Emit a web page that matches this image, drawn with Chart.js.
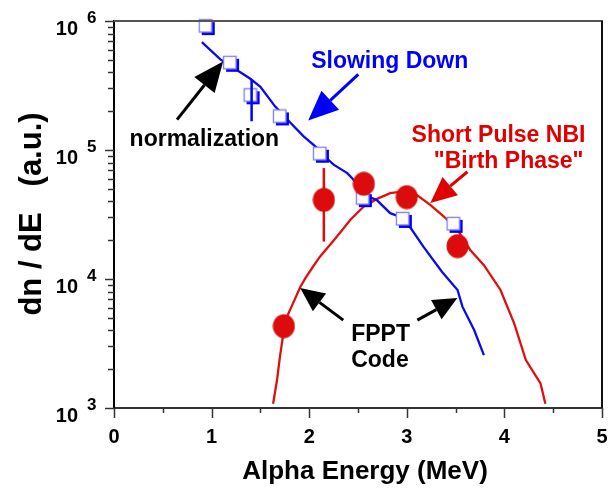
<!DOCTYPE html>
<html>
<head>
<meta charset="utf-8">
<script src="https://cdn.jsdelivr.net/npm/chart.js@4.4.0/dist/chart.umd.min.js"></script>
<style>
  html, body { margin: 0; padding: 0; background: #fff; }
  #wrap { width: 610px; height: 495px; }
</style>
</head>
<body>
<div id="wrap"><canvas id="chart" width="610" height="495"></canvas></div>
<script>
// measured "Slowing Down" points (open squares)
const sqE = [0.95, 1.20, 1.41, 1.71, 2.12, 2.56, 2.97, 3.49];
const sqN = [8.97e5, 4.66e5, 2.61e5, 1.79e5, 9.19e4, 4.16e4, 2.87e4, 2.63e4];

// measured "Short Pulse NBI" points (filled circles)
const dotE = [1.74, 2.15, 2.56, 3.00, 3.52];
const dotN = [4.31e3, 4.11e4, 5.47e4, 4.31e4, 1.80e4];

// error bars: energy, low, high
const sqErr = [1.41, 1.67e5, 3.52e5];
const dotErr = [2.15, 1.95e4, 7.24e4];

// FPPT code, slowing down (blue curve)
const slowE = [0.90, 1.09, 1.20, 1.33, 1.40, 1.50, 1.65, 1.81, 1.94, 2.08, 2.16, 2.25, 2.39, 2.44,
               2.56, 2.62, 2.69, 2.83, 2.90, 3.04, 3.17, 3.36, 3.52, 3.57, 3.69, 3.79];
const slowN = [6.86e5, 5.04e5, 4.45e5, 3.85e5, 3.55e5, 3.09e5, 2.18e5, 1.62e5, 1.28e5, 1.04e5, 8.9e4, 7.7e4, 6.62e4, 6.05e4,
               4.6e4, 4.3e4, 4.11e4, 3.24e4, 3.09e4, 2.48e4, 1.78e4, 1.14e4, 8.22e3, 6.1e3, 4.02e3, 2.57e3];

// FPPT code, birth phase (red curve)
const birthE = [1.63, 1.67, 1.70, 1.74, 1.78, 1.91, 1.96, 2.04, 2.11, 2.27, 2.42, 2.56, 2.69, 2.83,
                2.97, 3.10, 3.24, 3.38, 3.52, 3.65, 3.79, 3.96, 4.10, 4.22, 4.37, 4.42];
const birthN = [1.08e3, 1.64e3, 2.49e3, 4.0e3, 5.25e3, 8.71e3, 1.01e4, 1.25e4, 1.49e4, 2.07e4, 2.87e4, 3.65e4, 4.16e4, 4.63e4,
                4.77e4, 4.5e4, 3.76e4, 3.05e4, 2.4e4, 1.68e4, 1.28e4, 8.22e3, 4.53e3, 2.35e3, 1.55e3, 1.08e3];

const xLabels = [0, 1, 2, 3, 4, 5];
const yDecades = [3, 4, 5, 6];

// annotation text, anchored in data units
const notes = [
  { text: 'Slowing Down', x: 2.02, y: 4.36e5, color: '#0000ff', align: 'left' },
  { text: 'normalization', x: 0.16, y: 1.08e5, color: '#000', align: 'left' },
  { text: 'Short Pulse NBI', x: 4.83, y: 1.16e5, color: '#e00000', align: 'right' },
  { text: '"Birth Phase"', x: 4.81, y: 7.28e4, color: '#e00000', align: 'right' },
  { text: 'FPPT', x: 2.43, y: 3.3e3, color: '#000', align: 'left' },
  { text: 'Code', x: 2.43, y: 2.07e3, color: '#000', align: 'left' },
];
// arrows: tail -> tip
const arrows = [
  { from: [0.646, 1.72e5], to: [1.118, 4.85e5], color: '#000', head: 30, wide: 13 },
  { from: [2.503, 3.85e5], to: [1.99, 1.69e5], color: '#0000ff', head: 30, wide: 13 },
  { from: [3.621, 6.78e4], to: [3.241, 3.89e4], color: '#e00000', head: 26, wide: 12 },
  { from: [2.349, 4.8e3], to: [1.908, 8.51e3], color: '#000', head: 24, wide: 11 },
  { from: [3.108, 4.8e3], to: [3.518, 7.11e3], color: '#000', head: 24, wide: 11 },
];

const FONT = '"Liberation Sans", Arial, sans-serif';

function pts(xs, ys) { return xs.map((v, i) => ({ x: v, y: ys[i] })); }

function squareMark() {
  const c = document.createElement('canvas');
  c.width = 18; c.height = 18;
  const g = c.getContext('2d');
  g.fillStyle = '#fff';
  g.fillRect(1, 1, 13, 13);
  g.strokeStyle = '#0000ee';
  g.lineWidth = 3;
  g.beginPath(); g.moveTo(4, 15.5); g.lineTo(15.5, 15.5); g.lineTo(15.5, 4); g.stroke();
  g.strokeStyle = '#7c7cff';
  g.lineWidth = 1.3;
  g.strokeRect(1.5, 1.5, 12.5, 12.5);
  return c;
}

function dotMark() {
  const c = document.createElement('canvas');
  c.width = 23; c.height = 25;
  const g = c.getContext('2d');
  g.fillStyle = '#dd0c0c';
  g.beginPath(); g.ellipse(11.5, 12.5, 11, 12, 0, 0, Math.PI * 2); g.fill();
  return c;
}

function arrow(ctx, x1, y1, x2, y2, color, head, wide) {
  const ang = Math.atan2(y2 - y1, x2 - x1);
  const bx = x2 - head * Math.cos(ang), by = y2 - head * Math.sin(ang);
  ctx.strokeStyle = color; ctx.fillStyle = color; ctx.lineWidth = 3;
  ctx.beginPath(); ctx.moveTo(x1, y1); ctx.lineTo(bx, by); ctx.stroke();
  ctx.beginPath();
  ctx.moveTo(x2, y2);
  ctx.lineTo(bx + wide * Math.sin(ang), by - wide * Math.cos(ang));
  ctx.lineTo(bx - wide * Math.sin(ang), by + wide * Math.cos(ang));
  ctx.closePath(); ctx.fill();
}

const deco = {
  id: 'deco',
  afterDraw(chart) {
    const { ctx, chartArea: a, scales: { x, y } } = chart;
    ctx.save();

    // top and right frame
    ctx.lineWidth = 2;
    ctx.strokeStyle = '#555';
    ctx.beginPath(); ctx.moveTo(a.left, a.top); ctx.lineTo(a.right + 1, a.top); ctx.stroke();
    ctx.strokeStyle = '#111';
    ctx.beginPath(); ctx.moveTo(a.right, a.top); ctx.lineTo(a.right, a.bottom); ctx.stroke();

    // x ticks, majors at integers
    ctx.strokeStyle = '#333'; ctx.lineWidth = 1.5;
    for (let v = 0; v <= 5.001; v += 0.5) {
      const px = Math.round(x.getPixelForValue(v)) + 0.5;
      const len = Number.isInteger(v) ? 10 : 5;
      ctx.beginPath(); ctx.moveTo(px, a.bottom); ctx.lineTo(px, a.bottom + len); ctx.stroke();
    }
    // y ticks, log minors
    for (const d of yDecades) {
      for (let m = 1; m <= 9; m++) {
        if (d === 6 && m > 1) break;
        const py = Math.round(y.getPixelForValue(m * Math.pow(10, d))) + 0.5;
        const len = m === 1 ? 9 : 6;
        ctx.beginPath(); ctx.moveTo(a.left - len, py); ctx.lineTo(a.left, py); ctx.stroke();
      }
    }

    // tick labels
    ctx.fillStyle = '#000';
    ctx.font = 'bold 20px ' + FONT;
    ctx.textAlign = 'center'; ctx.textBaseline = 'alphabetic';
    for (const v of xLabels) ctx.fillText(String(v), x.getPixelForValue(v), a.bottom + 35);
    for (const d of yDecades) {
      const py = y.getPixelForValue(Math.pow(10, d));
      ctx.font = 'bold 20px ' + FONT;
      ctx.textAlign = 'right';
      ctx.fillText('10', a.left - 36, py + 14);
      ctx.font = 'bold 17px ' + FONT;
      ctx.textAlign = 'left';
      ctx.fillText(String(d), a.left - 27, py + 2);
    }

    // axis titles
    ctx.font = 'bold 26px ' + FONT;
    ctx.textAlign = 'center';
    ctx.fillText('Alpha Energy (MeV)', 365, a.bottom + 71);
    ctx.save();
    ctx.translate(41, 214);
    ctx.rotate(-Math.PI / 2);
    ctx.font = 'bold 31px ' + FONT;
    ctx.fillText('dn / dE   (a.u.)', 0, 0);
    ctx.restore();

    // annotations
    ctx.font = 'bold 23px ' + FONT;
    for (const n of notes) {
      ctx.fillStyle = n.color;
      ctx.textAlign = n.align;
      ctx.fillText(n.text, x.getPixelForValue(n.x), y.getPixelForValue(n.y));
    }
    for (const r of arrows) {
      arrow(ctx,
        x.getPixelForValue(r.from[0]), y.getPixelForValue(r.from[1]),
        x.getPixelForValue(r.to[0]), y.getPixelForValue(r.to[1]),
        r.color, r.head, r.wide);
    }
    ctx.restore();
  }
};

const ctx = document.getElementById('chart').getContext('2d');
new Chart(ctx, {
  type: 'scatter',
  data: {
    datasets: [
      { data: pts(dotE, dotN), pointStyle: dotMark(), pointRadius: 12, clip: false },
      { data: [{ x: sqErr[0], y: sqErr[1] }, { x: sqErr[0], y: sqErr[2] }], showLine: true,
        borderColor: '#0000ff', borderWidth: 2.5, pointRadius: 0 },
      { data: pts(sqE, sqN), pointStyle: squareMark(), pointRadius: 9, clip: false },
      { data: [{ x: dotErr[0], y: dotErr[1] }, { x: dotErr[0], y: dotErr[2] }], showLine: true,
        borderColor: '#dd0c0c', borderWidth: 2.5, pointRadius: 0 },
      { data: pts(slowE, slowN), showLine: true, borderColor: '#0a0af0', borderWidth: 2.3, pointRadius: 0 },
      { data: pts(birthE, birthN), showLine: true, borderColor: '#e01010', borderWidth: 2.3, pointRadius: 0 },
    ]
  },
  options: {
    responsive: false,
    animation: false,
    devicePixelRatio: 1,
    events: [],
    layout: { autoPadding: false, padding: { left: 114, right: 8, top: 21, bottom: 87 } },
    plugins: { legend: { display: false }, tooltip: { enabled: false } },
    scales: {
      x: {
        type: 'linear', min: 0, max: 5,
        ticks: { display: false },
        grid: { display: false, drawTicks: false },
        border: { display: true, color: '#333', width: 2 },
      },
      y: {
        type: 'logarithmic', min: 1000, max: 1000000,
        ticks: { display: false },
        grid: { display: false, drawTicks: false },
        border: { display: true, color: '#000', width: 2 },
      }
    }
  },
  plugins: [deco]
});
</script>
</body>
</html>
